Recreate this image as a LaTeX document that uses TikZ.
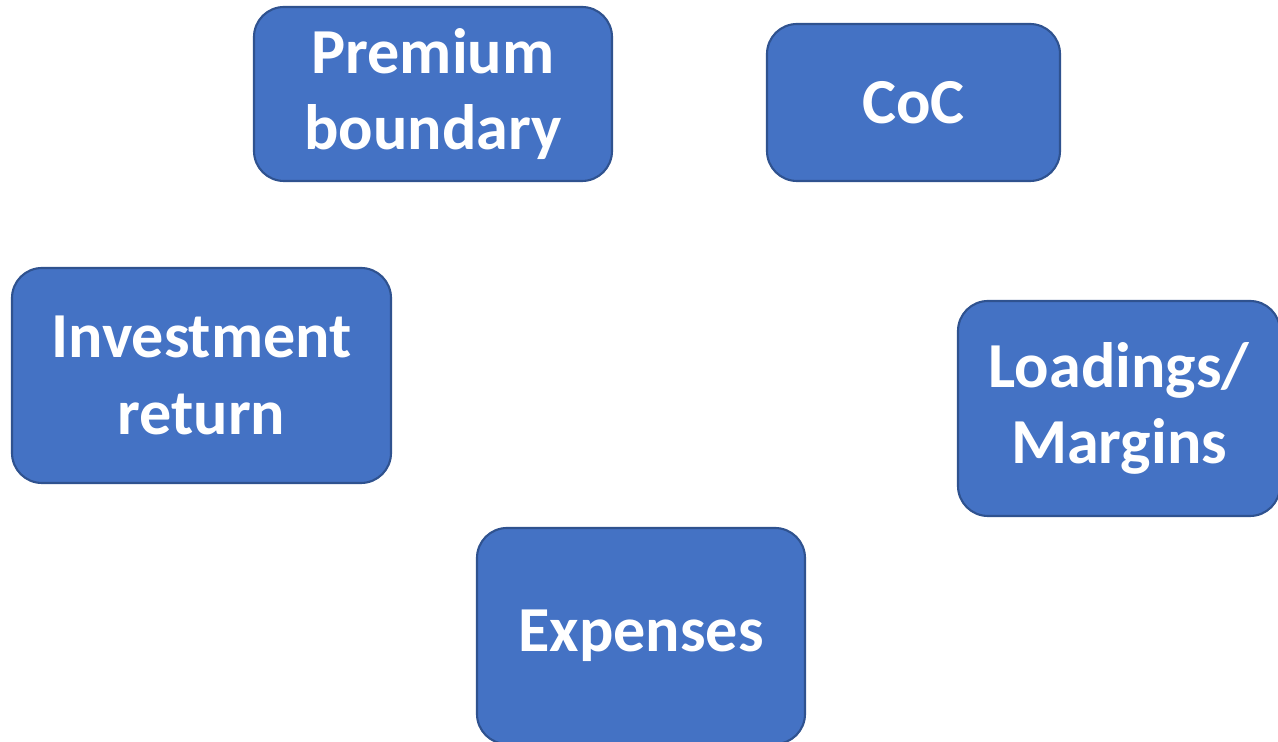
\documentclass[tikz,border=0pt]{standalone}
\usepackage{fontspec}
\setmainfont{Carlito}
\usepackage{xcolor}
\usepackage{tikz}
\usetikzlibrary{positioning}

\definecolor{boxblue}{HTML}{4472C4}
\definecolor{boxline}{HTML}{2F528F}

\begin{document}
\begin{tikzpicture}[
        box/.style={draw=boxline, line width=1.2pt, fill=boxblue, rectangle, rounded corners=0.6cm, align=center, text=white, font=\fontsize{36.5}{43.5}\selectfont\bfseries, inner sep=0pt}
    ]
        \useasboundingbox (0, 0) rectangle (25.56, 14.84);

        % Top row
        \node[box, minimum width=7.16cm, minimum height=3.48cm] (premium) at (8.66, 12.96) {Premium\\boundary};
        \node[box, minimum width=5.86cm, minimum height=3.14cm] (coc) at (18.27, 12.79) {CoC};

        % Middle row
        \node[box, minimum width=7.58cm, minimum height=4.30cm] (invest) at (4.03, 7.33) {Investment\\return};
        \node[box, minimum width=6.44cm, minimum height=4.30cm] (loadings) at (22.38, 6.67) {Loadings/\\Margins};

        % Bottom
        \node[box, minimum width=6.56cm, minimum height=4.32cm] (expenses) at (12.82, 2.12) {Expenses};
    \end{tikzpicture}
\end{document}
